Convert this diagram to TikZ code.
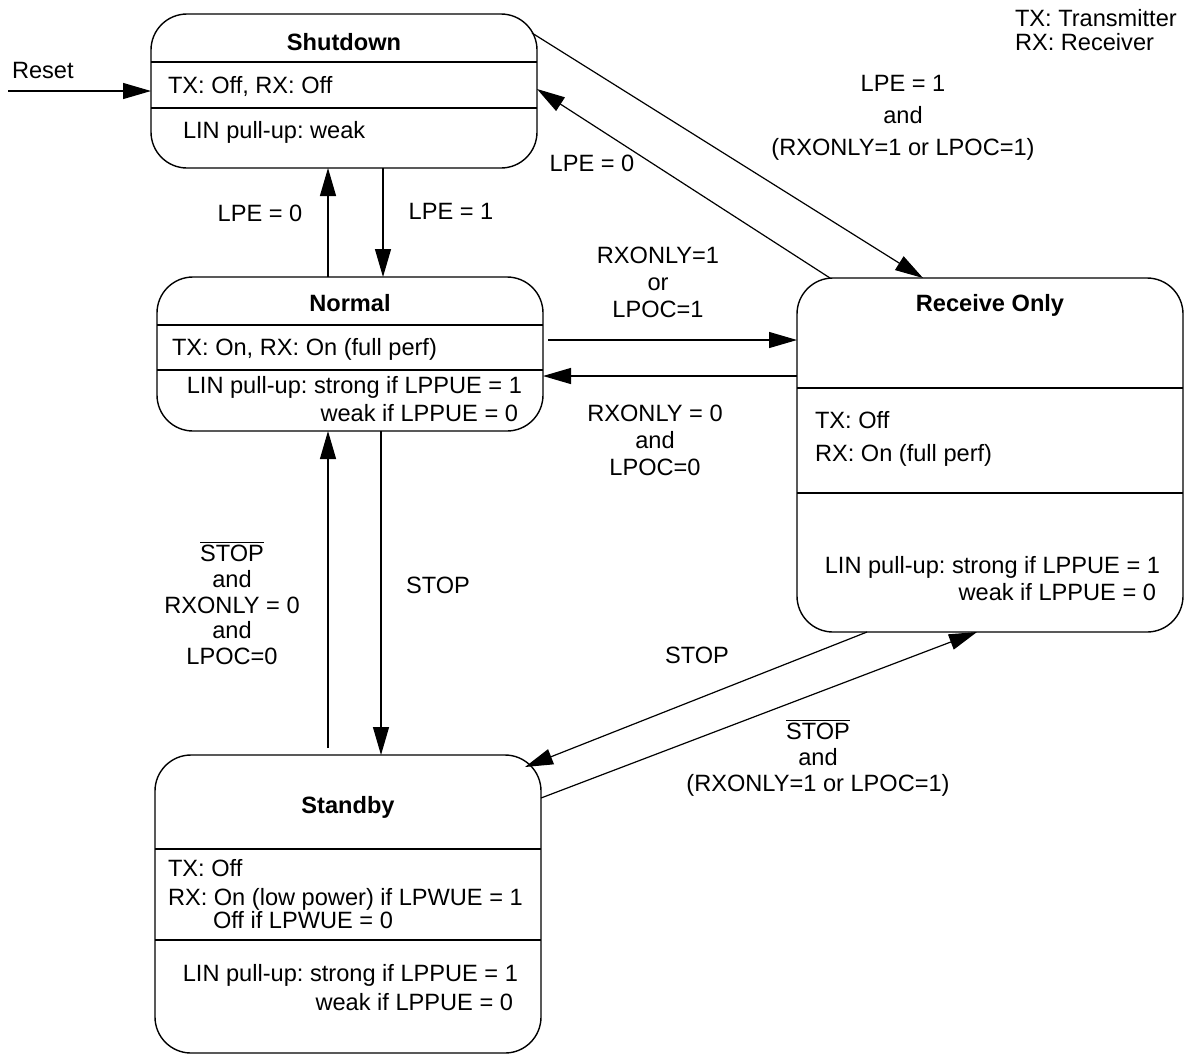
\documentclass[tikz,border=0pt]{standalone}
\usepackage{fontspec}
\setmainfont{Liberation Sans}
\usetikzlibrary{arrows.meta}
\frenchspacing
\begin{document}
\begin{tikzpicture}[x=0.5pt,y=-0.5pt,
  every node/.style={font=\fontsize{11.8}{13.5}\selectfont, inner sep=0pt, outer sep=0pt},
  state/.style={draw, line width=0.7pt, rounded corners=18pt, minimum width=193pt, inner sep=0pt, outer sep=0pt},
  divider/.style={line width=0.7pt},
  arr/.style={line width=0.6pt, -{Triangle[length=14pt,width=8pt]}},
  lbl/.style={align=center},
  ttl/.style={font=\fontsize{11.8}{13.5}\selectfont\bfseries}]
\useasboundingbox (0,0) rectangle (1188,1056);

% states
\node[state, minimum height=77pt]  (sd) at (344,91)  {};
\node[state, minimum height=77pt]  (nm) at (350,354) {};
\node[state, minimum height=177pt] (ro) at (990,455) {};
\node[state, minimum height=149pt] (sb) at (348,904) {};

% dividers
\draw[divider] ([yshift=-24pt]sd.north west) -- ([yshift=-24pt]sd.north east);
\draw[divider] ([yshift=-47pt]sd.north west) -- ([yshift=-47pt]sd.north east);
\draw[divider] ([yshift=-24pt]nm.north west) -- ([yshift=-24pt]nm.north east);
\draw[divider] ([yshift=-46.5pt]nm.north west) -- ([yshift=-46.5pt]nm.north east);
\draw[divider] ([yshift=-55pt]ro.north west) -- ([yshift=-55pt]ro.north east);
\draw[divider] ([yshift=-107.5pt]ro.north west) -- ([yshift=-107.5pt]ro.north east);
\draw[divider] ([yshift=-47pt]sb.north west) -- ([yshift=-47pt]sb.north east);
\draw[divider] ([yshift=-92.5pt]sb.north west) -- ([yshift=-92.5pt]sb.north east);

% state texts
\node[ttl, anchor=base] (sdt) at (344,50) {Shutdown};
\node[anchor=base west] (sda) at (168,93) {TX: Off, RX: Off};
\node[anchor=base west] (sdb) at (183,138) {LIN pull-up: weak};

\node[ttl, anchor=base] (nmt) at (350,311) {Normal};
\node[anchor=base west] (nma) at (172,355) {TX: On, RX: On (full perf)};
\node[anchor=base east] (nmb) at (522,393) {LIN pull-up: strong if LPPUE = 1};
\node[anchor=base east] (nmc) at (518,421) {weak if LPPUE = 0};

\node[ttl, anchor=base] (rot) at (990,311) {Receive Only};
\node[anchor=base west] (roa) at (815,428) {TX: Off};
\node[anchor=base west] (rob) at (815,461) {RX: On (full perf)};
\node[anchor=base east] (roc) at (1160,573) {LIN pull-up: strong if LPPUE = 1};
\node[anchor=base east] (rod) at (1156,600) {weak if LPPUE = 0};

\node[ttl, anchor=base] (sbt) at (348,813) {Standby};
\node[anchor=base west] (sba) at (168,876) {TX: Off};
\node[anchor=base west] (sbb) at (168,905) {RX: On (low power) if LPWUE = 1};
\node[anchor=base west] (sbc) at (213,928) {Off if LPWUE = 0};
\node[anchor=base east] (sbd) at (518,981) {LIN pull-up: strong if LPPUE = 1};
\node[anchor=base east] (sbe) at (513,1010) {weak if LPPUE = 0};

% legend
\node[anchor=base west] (lg1) at (1015,26) {TX: Transmitter};
\node[anchor=base west] (lg2) at (1015,50) {RX: Receiver};

% reset
\coordinate (rst) at (8,91);
\node[anchor=base west] (rstl) at (12,78) {Reset};
\draw[arr] (rst) -- (sd.west);

% Shutdown <-> Normal
\draw[arr] ([xshift=-11pt]nm.north) -- ([xshift=-8pt]sd.south);
\draw[arr] ([xshift=19.5pt]sd.south) -- ([xshift=16.5pt]nm.north);
\node (l1) at (260,213) {LPE = 0};
\node (l2) at (451,211) {LPE = 1};

% Normal <-> Standby
\draw[arr, shorten <=3.5pt] ([xshift=-10pt]sb.north) -- ([xshift=-11pt]nm.south);
\draw[arr] ([xshift=15.5pt]nm.south) -- ([xshift=16.5pt]sb.north);
\node[lbl, font=\fontsize{11.8}{12.9}\selectfont] (l3) at (232,603) {$\overline{\hbox{STOP}}$\\and\\RXONLY = 0\\and\\LPOC=0};
\node (l4) at (438,585) {STOP};

% Normal <-> Receive Only
\draw[arr, shorten <=2.5pt] ([yshift=7pt]nm.east) -- ([yshift=57.5pt]ro.west);
\draw[arr] ([yshift=39.5pt]ro.west) -- ([yshift=-11pt]nm.east);
\node[lbl] (l5) at (658,282) {RXONLY=1\\or\\LPOC=1};
\node[lbl] (l6) at (655,440) {RXONLY = 0\\and\\LPOC=0};

% Shutdown <-> Receive Only
\draw[arr] ([xshift=-2.5pt,yshift=-9.5pt]sd.north east) -- ([xshift=-33.5pt]ro.north);
\draw[arr] ([xshift=16.5pt]ro.north west) -- ([yshift=1pt]sd.east);
\node[lbl, font=\fontsize{11.8}{16}\selectfont] (l7) at (903,118) {LPE = 1\\and\\(RXONLY=1 or LPOC=1)};
\node (l8) at (592,163) {LPE = 0};

% Receive Only <-> Standby
\draw[arr] ([xshift=35pt]ro.south west) -- ([xshift=-8pt,yshift=-6pt]sb.north east);
\draw[arr] ([yshift=-21.5pt]sb.north east) -- ([xshift=-6.5pt]ro.south);
\node (l9) at (697,655) {STOP};
\node[lbl, font=\fontsize{11.8}{13}\selectfont] (l10) at (818,758) {$\overline{\hbox{STOP}}$\\and\\(RXONLY=1 or LPOC=1)};
\end{tikzpicture}
\end{document}
